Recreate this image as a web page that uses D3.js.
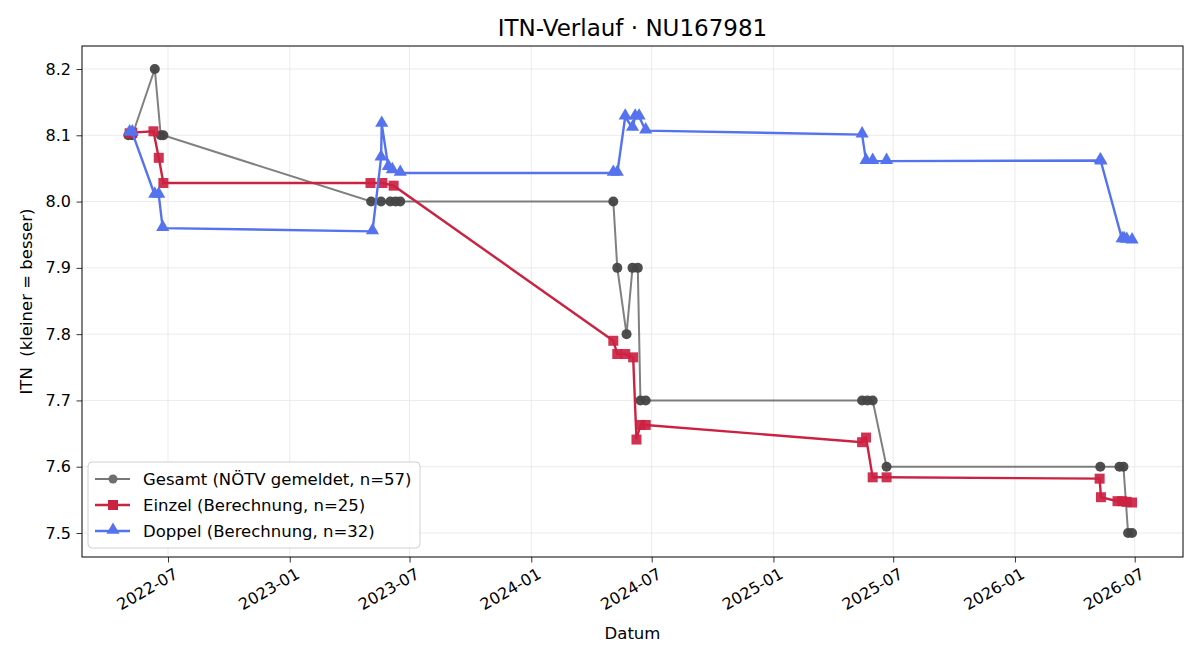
<!DOCTYPE html>
<html>
<head>
<meta charset="utf-8">
<script src="https://cdn.jsdelivr.net/npm/d3@7"></script>
<style>
  body { margin: 0; background: #fff; }
  svg { font-family: "DejaVu Sans", sans-serif; }
</style>
</head>
<body>
<div id="chart"></div>
<script>
// Gesamt (NÖTV gemeldet)
var gesamtDates = ["2022-05-02","2022-05-08","2022-06-11","2022-06-20","2022-06-24",
  "2023-05-04","2023-05-19","2023-06-02","2023-06-10","2023-06-17",
  "2024-05-04","2024-05-10","2024-05-24","2024-06-02","2024-06-10","2024-06-14","2024-06-22",
  "2025-05-15","2025-05-23","2025-05-31","2025-06-21",
  "2026-05-10","2026-06-08","2026-06-14","2026-06-21","2026-06-27"]
var gesamtValues = [8.1, 8.1, 8.2, 8.1, 8.1,
  8.0, 8.0, 8.0, 8.0, 8.0,
  8.0, 7.9, 7.8, 7.9, 7.9, 7.7, 7.7,
  7.7, 7.7, 7.7, 7.6,
  7.6, 7.6, 7.6, 7.5, 7.5]

// Einzel (Berechnung)
var einzelDates = ["2022-05-04","2022-05-08","2022-06-09","2022-06-17","2022-06-24",
  "2023-05-03","2023-05-21","2023-06-07",
  "2024-05-04","2024-05-10","2024-05-22","2024-06-03","2024-06-08","2024-06-14","2024-06-22",
  "2025-05-15","2025-05-21","2025-05-31","2025-06-21",
  "2026-05-09","2026-05-11","2026-06-05","2026-06-12","2026-06-19","2026-06-27"]
var einzelValues = [8.103, 8.104, 8.106, 8.066, 8.028,
  8.028, 8.028, 8.024,
  7.790, 7.770, 7.770, 7.765, 7.641, 7.663, 7.663,
  7.637, 7.644, 7.584, 7.584,
  7.582, 7.554, 7.548, 7.548, 7.547, 7.546]

// Doppel (Berechnung)
var doppelDates = ["2022-05-04","2022-05-08","2022-06-11","2022-06-17","2022-06-23",
  "2023-05-06","2023-05-19","2023-05-20","2023-05-30","2023-06-05","2023-06-17",
  "2024-05-04","2024-05-10","2024-05-22","2024-06-02","2024-06-06","2024-06-12","2024-06-22",
  "2025-05-15","2025-05-21","2025-05-31","2025-06-21",
  "2026-05-10","2026-05-11","2026-06-12","2026-06-15","2026-06-19","2026-06-27"]
var doppelValues = [8.104, 8.104, 8.010, 8.010, 7.960,
  7.955, 8.066, 8.117, 8.052, 8.047, 8.043,
  8.043, 8.043, 8.128, 8.111, 8.128, 8.128, 8.107,
  8.101, 8.061, 8.061, 8.061,
  8.062, 8.060, 7.943, 7.943, 7.942, 7.941]

var yTicks = [7.5, 7.6, 7.7, 7.8, 7.9, 8.0, 8.1, 8.2]
var legendLabels = ["Gesamt (NÖTV gemeldet, n=57)", "Einzel (Berechnung, n=25)", "Doppel (Berechnung, n=32)"]

var W = 1200, H = 660
var margin = { top: 46, right: 17, bottom: 103, left: 82 },
  width = W - margin.left - margin.right,
  height = H - margin.top - margin.bottom

var parse = d3.timeParse("%Y-%m-%d")
function zipSeries(dates, values) {
  return dates.map(function(d, i) { return { date: parse(d), value: values[i] } })
}
var gesamt = zipSeries(gesamtDates, gesamtValues)
var einzel = zipSeries(einzelDates, einzelValues)
var doppel = zipSeries(doppelDates, doppelValues)

var svg = d3.select("#chart")
  .append("svg")
  .attr("width", W)
  .attr("height", H)

var g = svg.append("g")
  .attr("transform", "translate(" + margin.left + "," + margin.top + ")")

var x = d3.scaleTime()
  .domain([parse("2022-02-21"), parse("2026-09-12")])
  .range([0, width])

var y = d3.scaleLinear()
  .domain([7.4638, 8.2347])
  .range([height, 0])

var xTicks = x.ticks(d3.timeMonth.every(6))

// grid
g.append("g").selectAll("line")
  .data(xTicks).enter().append("line")
  .attr("x1", function(d) { return x(d) }).attr("x2", function(d) { return x(d) })
  .attr("y1", 0).attr("y2", height)
  .attr("stroke", "#e6e6e6").attr("stroke-width", 0.8)
g.append("g").selectAll("line")
  .data(yTicks).enter().append("line")
  .attr("x1", 0).attr("x2", width)
  .attr("y1", function(d) { return y(d) }).attr("y2", function(d) { return y(d) })
  .attr("stroke", "#e6e6e6").attr("stroke-width", 0.8)

// axes
var xAxis = g.append("g")
  .attr("transform", "translate(0," + height + ")")
  .call(d3.axisBottom(x).tickValues(xTicks).tickFormat(d3.timeFormat("%Y-%m")).tickSize(5.5).tickPadding(4))
xAxis.select(".domain").remove()
xAxis.attr("font-size", null).attr("font-family", null)
xAxis.selectAll("text")
  .style("font-size", "16px").attr("fill", "#000")
  .attr("text-anchor", "end")
  .attr("dy", "0.7em")
  .attr("transform", "rotate(-30) translate(-1,2)")
xAxis.selectAll("line").attr("stroke", "#000").attr("stroke-width", 0.8)

var yAxis = g.append("g")
  .call(d3.axisLeft(y).tickValues(yTicks).tickFormat(d3.format(".1f")).tickSize(5.5).tickPadding(5.5))
yAxis.select(".domain").remove()
yAxis.attr("font-size", null).attr("font-family", null)
yAxis.selectAll("text").style("font-size", "16px").attr("fill", "#000")
yAxis.selectAll("line").attr("stroke", "#000").attr("stroke-width", 0.8)

g.append("rect")
  .attr("x", 0).attr("y", 0)
  .attr("width", width).attr("height", height)
  .attr("fill", "none").attr("stroke", "#000").attr("stroke-width", 1)

var line = d3.line()
  .x(function(d) { return x(d.date) })
  .y(function(d) { return y(d.value) })

// Gesamt
g.append("path").datum(gesamt)
  .attr("d", line).attr("fill", "none")
  .attr("stroke", "#555").attr("stroke-opacity", 0.75).attr("stroke-width", 2)
g.append("g").selectAll("circle")
  .data(gesamt).enter().append("circle")
  .attr("cx", function(d) { return x(d.date) })
  .attr("cy", function(d) { return y(d.value) })
  .attr("r", 5)
  .attr("fill", "#444").attr("fill-opacity", 0.95)

// Einzel
var red = "#cc2242"
g.append("path").datum(einzel)
  .attr("d", line).attr("fill", "none")
  .attr("stroke", red).attr("stroke-width", 2.4)
g.append("g").selectAll("rect")
  .data(einzel).enter().append("rect")
  .attr("x", function(d) { return x(d.date) - 5 })
  .attr("y", function(d) { return y(d.value) - 5 })
  .attr("width", 10).attr("height", 10)
  .attr("fill", red).attr("fill-opacity", 0.92)

// Doppel
var blue = "#5573ee"
var tri = d3.symbol().type(d3.symbolTriangle).size(75)
g.append("path").datum(doppel)
  .attr("d", line).attr("fill", "none")
  .attr("stroke", blue).attr("stroke-width", 2.4)
g.append("g").selectAll("path")
  .data(doppel).enter().append("path")
  .attr("d", tri)
  .attr("transform", function(d) { return "translate(" + x(d.date) + "," + (y(d.value) - 1) + ")" })
  .attr("fill", blue)

// legend
var leg = g.append("g").attr("transform", "translate(6," + (height - 95) + ")")
leg.append("rect")
  .attr("width", 332).attr("height", 86).attr("rx", 4)
  .attr("fill", "#fff").attr("fill-opacity", 0.85)
  .attr("stroke", "#d0d0d0").attr("stroke-width", 1)
var legColors = ["#777", red, blue]
leg.selectAll("line.l")
  .data(legendLabels).enter().append("line")
  .attr("x1", 7).attr("x2", 42)
  .attr("y1", function(d, i) { return 17 + i * 26 })
  .attr("y2", function(d, i) { return 17 + i * 26 })
  .attr("stroke", function(d, i) { return legColors[i] })
  .attr("stroke-width", function(d, i) { return i == 0 ? 2 : 2.4 })
leg.append("circle").attr("cx", 25).attr("cy", 17).attr("r", 4.5).attr("fill", "#6f6f6f")
leg.append("rect").attr("x", 20).attr("y", 38).attr("width", 10).attr("height", 10).attr("fill", red)
leg.append("path").attr("d", tri).attr("transform", "translate(25,68)").attr("fill", blue)
leg.selectAll("text")
  .data(legendLabels).enter().append("text")
  .attr("x", 55)
  .attr("y", function(d, i) { return 17 + i * 26 })
  .attr("dy", "0.35em")
  .attr("font-size", 16.5)
  .text(function(d) { return d })

// titles
svg.append("text")
  .attr("x", margin.left + width / 2).attr("y", 36)
  .attr("text-anchor", "middle").attr("font-size", 23)
  .text("ITN-Verlauf · NU167981")
svg.append("text")
  .attr("x", margin.left + width / 2).attr("y", 639)
  .attr("text-anchor", "middle").attr("font-size", 16.5)
  .text("Datum")
svg.append("text")
  .attr("transform", "translate(32," + (margin.top + height / 2) + ") rotate(-90)")
  .attr("text-anchor", "middle").attr("font-size", 16.5)
  .style("white-space", "pre")
  .text("ITN  (kleiner = besser)")
</script>
</body>
</html>
